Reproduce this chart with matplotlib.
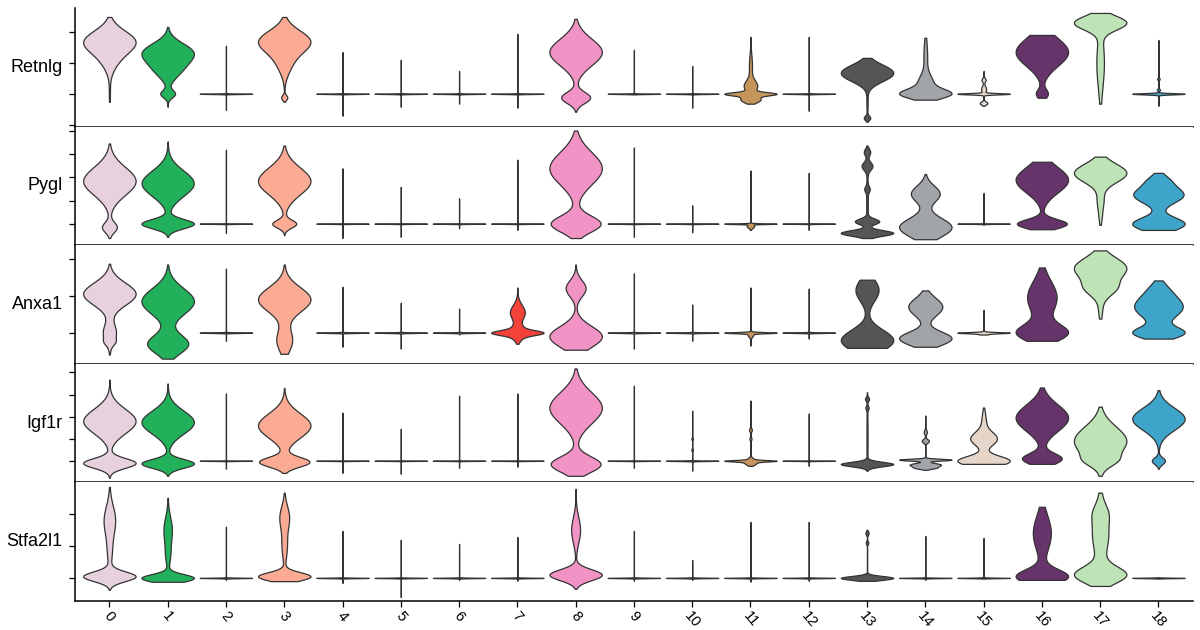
import numpy as np
import matplotlib
matplotlib.use("Agg")
import matplotlib.pyplot as plt

# ---------------- data ----------------
GENES = ["Retnlg", "Pygl", "Anxa1", "Igf1r", "Stfa2l1"]
CLUSTERS = [str(i) for i in range(19)]
COLORS = ['#e7d1de', '#23b05a', '#8c6bb1', '#fbab94', '#9ecae1', '#6baed6',
          '#ffbb78', '#f2423a', '#f193c5', '#c5b0d5', '#8dd3c7', '#c5955c',
          '#bcbd22', '#555555', '#a1a4a8', '#e6d6c9', '#66336b', '#bee3b6',
          '#3fa4c9']

LINE = [(0.0, 0.008, 1.0)]

# data range (min, max) of each violin, per gene
RETNLG_RANGE = [(-0.26, 2.48), (-0.42, 2.16), (-0.52, 1.55), (-0.26, 2.48), (-0.71, 1.35),
                (-0.42, 1.1), (-0.32, 0.74), (-0.45, 1.94), (-0.58, 2.42), (-0.02, 1.42),
                (-0.45, 0.9), (-0.32, 1.84), (-0.55, 1.84), (-0.9, 1.16), (-0.19, 1.81),
                (-0.39, 0.74), (-0.13, 1.9), (-0.32, 2.61), (-0.39, 1.74)]
PYGL_RANGE = [(-0.62, 3.47), (-0.57, 3.56), (-0.4, 3.2), (-0.49, 3.38), (-0.62, 2.4),
              (-0.57, 1.6), (-0.2, 1.1), (-0.27, 2.77), (-0.62, 4.03), (-0.57, 3.3),
              (-0.37, 0.8), (-0.27, 2.3), (-0.27, 2.2), (-0.62, 3.38), (-0.67, 2.15),
              (-0.05, 1.33), (-0.24, 2.68), (-0.05, 2.9), (-0.27, 2.2)]
ANXA1_RANGE = [(-0.59, 1.86), (-0.7, 1.84), (-0.22, 1.73), (-0.57, 1.84), (-0.38, 1.24),
               (-0.43, 0.81), (-0.05, 0.65), (-0.3, 1.22), (-0.46, 1.84), (-0.43, 1.6),
               (-0.22, 0.76), (-0.35, 1.22), (-0.16, 1.19), (-0.41, 1.43), (-0.38, 1.14),
               (-0.05, 0.62), (-0.22, 1.76), (0.38, 2.22), (-0.16, 1.41)]
IGF1R_RANGE = [(-0.77, 3.68), (-0.68, 3.5), (-0.36, 3.05), (-0.55, 3.3), (-0.55, 2.18),
               (-0.59, 1.45), (-0.32, 2.95), (-0.27, 3.05), (-0.68, 4.18), (-0.32, 3.4),
               (-0.45, 2.27), (-0.23, 2.73), (-0.23, 2.14), (-0.45, 3.1), (-0.41, 2.05),
               (-0.14, 2.41), (-0.14, 3.32), (-0.68, 2.45), (-0.36, 3.2)]
STFA2L1_RANGE = [(-0.37, 2.84), (-0.12, 2.5), (-0.06, 1.6), (-0.1, 2.66), (-0.16, 1.47),
                 (-0.6, 1.19), (-0.06, 1.06), (-0.09, 1.28), (-0.34, 2.78), (-0.09, 1.47),
                 (-0.06, 0.56), (-0.12, 1.75), (-0.09, 1.75), (-0.09, 1.5), (-0.06, 1.31),
                 (-0.02, 1.25), (-0.06, 2.22), (-0.25, 2.66), (-0.02, 0.02)]

# density modes (centre, spread, weight) of each violin, per gene
RETNLG_MODES = [
    [(1.7, 0.35, 1.0), (1.1, 0.35, 0.25), (0.0, 0.3, 0.02)],
    [(1.35, 0.3, 1.0), (0.8, 0.3, 0.5), (0.0, 0.12, 0.3)],
    LINE,
    [(1.7, 0.35, 1.0), (1.0, 0.35, 0.25), (-0.12, 0.08, 0.12)],
    LINE, LINE, LINE, LINE,
    [(1.35, 0.43, 1.0), (-0.12, 0.18, 0.55)],
    LINE, LINE,
    [(0.0, 0.05, 1.0), (-0.18, 0.1, 0.45), (0.25, 0.18, 0.3), (0.9, 0.35, 0.07)],
    LINE,
    [(0.8, 0.22, 0.8), (0.55, 0.22, 0.8), (-0.3, 0.3, 0.03), (-0.78, 0.07, 0.16)],
    [(0.0, 0.15, 1.0), (0.35, 0.25, 0.3), (1.2, 0.5, 0.08)],
    [(0.0, 0.02, 1.0), (0.45, 0.06, 0.08), (0.15, 0.1, 0.1), (-0.3, 0.05, 0.15)],
    [(1.35, 0.45, 1.0), (0.0, 0.15, 0.22)],
    [(2.3, 0.22, 1.0), (1.0, 0.8, 0.15)],
    [(0.0, 0.02, 1.0), (0.48, 0.03, 0.05), (0.13, 0.03, 0.06)],
]
PYGL_MODES = [
    [(1.85, 0.6, 1.0), (-0.15, 0.22, 0.28)],
    [(1.75, 0.55, 1.0), (0.0, 0.2, 1.0)],
    LINE,
    [(1.85, 0.58, 1.0), (0.0, 0.17, 0.45)],
    LINE, LINE, LINE, LINE,
    [(2.4, 0.7, 1.0), (0.0, 0.35, 0.95)],
    LINE, LINE,
    [(0.0, 0.015, 1.0), (-0.1, 0.08, 0.15)],
    LINE,
    [(-0.4, 0.12, 1.0), (0.1, 0.12, 0.45), (2.5, 0.17, 0.2), (3.1, 0.15, 0.12),
     (1.5, 0.12, 0.08), (1.0, 1.0, 0.03)],
    [(-0.15, 0.4, 1.0), (1.3, 0.35, 0.55)],
    LINE,
    [(1.9, 0.55, 1.0), (0.0, 0.2, 0.95)],
    [(2.2, 0.4, 1.0), (1.0, 0.35, 0.12), (0.3, 0.3, 0.05)],
    [(1.25, 0.35, 0.95), (1.9, 0.25, 0.3), (0.0, 0.28, 1.0)],
]
ANXA1_MODES = [
    [(1.05, 0.3, 1.0), (0.0, 0.25, 0.25), (-0.25, 0.08, 0.08)],
    [(0.85, 0.35, 1.0), (-0.3, 0.25, 0.78)],
    LINE,
    [(0.9, 0.33, 1.0), (-0.2, 0.3, 0.3)],
    LINE, LINE, LINE,
    [(0.0, 0.06, 0.7), (0.0, 0.15, 0.35), (0.55, 0.2, 0.3)],
    [(-0.1, 0.28, 1.0), (1.2, 0.22, 0.38)],
    LINE, LINE,
    [(0.0, 0.015, 1.0), (-0.05, 0.06, 0.12)],
    LINE,
    [(-0.2, 0.28, 1.0), (1.15, 0.3, 0.44)],
    [(-0.15, 0.18, 1.0), (0.7, 0.24, 0.65)],
    [(0.0, 0.015, 1.0), (-0.03, 0.04, 0.2)],
    [(0.0, 0.22, 1.0), (0.95, 0.45, 0.6)],
    [(1.75, 0.28, 1.0), (1.2, 0.2, 0.5), (0.7, 0.3, 0.08)],
    [(0.7, 0.3, 0.98), (1.2, 0.2, 0.2), (0.0, 0.15, 1.0)],
]
IGF1R_MODES = [
    [(1.8, 0.55, 1.0), (-0.1, 0.22, 1.0)],
    [(1.75, 0.52, 1.0), (-0.12, 0.2, 1.0)],
    LINE,
    [(1.6, 0.55, 1.0), (-0.05, 0.22, 0.95)],
    LINE, LINE, LINE, LINE,
    [(2.4, 0.7, 1.0), (-0.15, 0.35, 0.95)],
    LINE,
    [(0.0, 0.012, 1.0), (1.0, 0.05, 0.03), (0.5, 0.05, 0.03)],
    [(0.0, 0.03, 1.0), (-0.05, 0.12, 0.35), (1.4, 0.08, 0.07), (1.0, 0.08, 0.05)],
    LINE,
    [(-0.15, 0.1, 1.0), (2.8, 0.08, 0.07), (2.4, 0.08, 0.05), (1.0, 1.5, 0.02)],
    [(0.05, 0.04, 1.0), (-0.18, 0.08, 0.6), (-0.32, 0.05, 0.3), (0.9, 0.08, 0.14),
     (1.3, 0.1, 0.06)],
    [(0.0, 0.22, 1.0), (1.0, 0.3, 0.5), (1.8, 0.4, 0.08)],
    [(1.95, 0.6, 1.0), (0.1, 0.25, 0.75)],
    [(0.9, 0.65, 1.0), (0.0, 0.25, 0.3)],
    [(1.9, 0.5, 1.0), (0.0, 0.15, 0.25)],
]
STFA2L1_MODES = [
    [(0.05, 0.15, 1.0), (1.8, 0.45, 0.22), (0.8, 0.4, 0.08)],
    [(0.0, 0.12, 1.0), (1.5, 0.4, 0.16), (0.7, 0.3, 0.08)],
    LINE,
    [(0.05, 0.13, 1.0), (1.9, 0.35, 0.18), (1.0, 0.4, 0.1)],
    LINE, LINE, LINE, LINE,
    [(0.1, 0.17, 1.0), (1.5, 0.4, 0.17)],
    LINE, LINE, LINE, LINE,
    [(0.0, 0.06, 1.0), (1.4, 0.06, 0.06), (1.1, 0.05, 0.05)],
    LINE, LINE,
    [(0.05, 0.22, 1.0), (1.4, 0.55, 0.35)],
    [(0.1, 0.25, 1.0), (1.4, 0.7, 0.33), (2.05, 0.25, 0.12)],
    LINE,
]

RANGES = [RETNLG_RANGE, PYGL_RANGE, ANXA1_RANGE, IGF1R_RANGE, STFA2L1_RANGE]
MODES = [RETNLG_MODES, PYGL_MODES, ANXA1_MODES, IGF1R_MODES, STFA2L1_MODES]
YTICKS = [[-1, 0, 1, 2], [0, 1, 2, 3, 4], [0, 1, 2], [0, 1, 2, 3, 4], [0, 1, 2]]
YLIMS = [(-1.06, 2.77), (-0.93, 4.2), (-0.84, 2.36), (-0.98, 4.39), (-0.72, 2.98)]


def violin_stats(lo, hi, modes):
    base = np.linspace(lo, hi, 800)
    extra = np.array([m + k * s for (m, s, w) in modes for k in np.linspace(-4, 4, 41)])
    extra = extra[(extra >= lo) & (extra <= hi)]
    coords = np.unique(np.round(np.concatenate([base, extra]), 6))
    vals = np.zeros_like(coords)
    for m, s, w in modes:
        vals += w * np.exp(-0.5 * ((coords - m) / s) ** 2)
    vals = vals + 1e-4 * vals.max()
    return dict(coords=coords, vals=vals, mean=0.0, median=0.0, min=lo, max=hi)


plt.rcParams['font.family'] = ['Liberation Sans', 'DejaVu Sans']
fig = plt.figure(figsize=(12, 6.3), dpi=100)
axes = fig.subplots(5, 1, sharex=True,
                    gridspec_kw=dict(hspace=0, left=0.0625, right=0.994,
                                     top=0.9873, bottom=0.046))
positions = np.arange(len(CLUSTERS))

for gi, ax in enumerate(axes):
    stats = [violin_stats(lo, hi, md) for (lo, hi), md in zip(RANGES[gi], MODES[gi])]
    parts = ax.violin(stats, positions=positions, widths=0.9,
                      showmeans=False, showextrema=False, showmedians=False)
    for body, col in zip(parts['bodies'], COLORS):
        body.set_facecolor(col)
        body.set_edgecolor('#333333')
        body.set_linewidth(0.9)
        body.set_alpha(1)
    ax.set_ylim(*YLIMS[gi])
    ax.set_yticks(YTICKS[gi])
    ax.set_yticklabels([])
    ax.tick_params(axis='y', length=4, width=0.9)
    ax.spines['top'].set_visible(False)
    ax.spines['right'].set_visible(False)
    for sp in ('left', 'bottom'):
        ax.spines[sp].set_linewidth(1.1)
    ax.text(-0.011, 0.5, GENES[gi], transform=ax.transAxes, ha='right',
            va='center', fontsize=13)
    if gi < len(axes) - 1:
        ax.tick_params(axis='x', bottom=False, labelbottom=False)

ax = axes[-1]
ax.set_xlim(-0.59, 18.59)
ax.set_xticks(positions)
ax.set_xticklabels(CLUSTERS, rotation=-50, ha='center', va='top',
                   rotation_mode='default', fontsize=10.5)
ax.tick_params(axis='x', length=4, width=0.9, pad=2)

fig.savefig("out.png", dpi=100)
